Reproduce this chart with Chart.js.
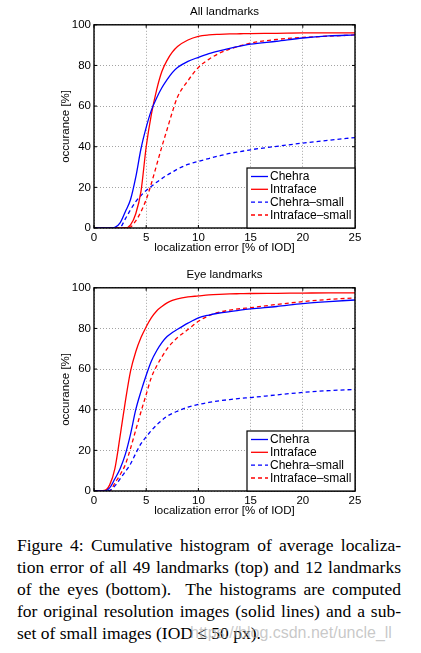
<!DOCTYPE html>
<html lang="en">
<head>
  <meta charset="UTF-8">
  <title>Cumulative localization error</title>
  <script src="https://cdn.jsdelivr.net/npm/chart.js"></script>
  <style>
    html, body {
      margin: 0;
      padding: 0;
      background: #fff;
    }
    body {
      position: relative;
      width: 421px;
      height: 653px;
      overflow: hidden;
    }
    .plot {
      position: absolute;
      left: 0;
      width: 421px;
      height: 262px;
    }
    #topBox { top: 0; }
    #eyeBox { top: 263px; }
    .caption {
      position: absolute;
      left: 17px;
      top: 534px;
      width: 384px;
      font-family: "Liberation Serif", "DejaVu Serif", serif;
      font-size: 17.5px;
      line-height: 22px;
      color: #000;
    }
    .caption .ln {
      text-align: justify;
      text-align-last: justify;
      white-space: nowrap;
    }
    .caption .ln.last {
      text-align-last: left;
    }
    .mark {
      position: absolute;
      left: 190px;
      top: 624px;
      font-family: "Liberation Sans", Arial, sans-serif;
      font-size: 16px;
      color: rgba(170, 170, 170, 0.65);
    }
  </style>
</head>
<body>
  <div class="plot" id="topBox"><canvas id="allChart"></canvas></div>
  <div class="plot" id="eyeBox"><canvas id="eyeChart"></canvas></div>

  <div class="caption">
    <div class="ln">Figure 4: Cumulative histogram of average localiza-</div>
    <div class="ln">tion error of all 49 landmarks (top) and 12 landmarks</div>
    <div class="ln">of the eyes (bottom).&nbsp; The histograms are computed</div>
    <div class="ln">for original resolution images (solid lines) and a sub-</div>
    <div class="ln last">set of small images (IOD ≤ 50 px).</div>
  </div>
  <div class="mark">https://blog.csdn.net/uncle_ll</div>

  <script>
    // localization error [% of IOD], shared sample points for every curve
    const errX = [0, 1, 1.5, 2, 2.5, 3, 3.5, 4, 4.5, 5, 5.5, 6, 6.5, 7, 7.5, 8, 9, 10, 11, 12, 13, 14, 15, 17.5, 20, 22.5, 25];

    // top: all 49 landmarks
    const allChehra         = [0, 0, 0, 0.3, 2.5, 8, 14, 25, 39, 49.5, 58, 64, 69, 73, 76.5, 79, 82, 84, 85.8, 87.2, 88.4, 89.5, 90.5, 91.9, 93.5, 94.5, 95];
    const allIntraface      = [0, 0, 0, 0, 0, 0, 1.5, 7, 18, 40, 56, 68, 77, 82.5, 86.5, 89.3, 92.5, 94.3, 95, 95.3, 95.5, 95.6, 95.7, 95.8, 96, 96, 96];
    const allChehraSmall    = [0, 0, 0, 0, 0.3, 4.5, 9, 13, 16, 18.5, 20.5, 22.5, 24.3, 26, 27.5, 29, 31.3, 32.8, 34.2, 35.5, 36.7, 37.6, 38.5, 40.2, 41.8, 43.2, 44.5];
    const allIntrafaceSmall = [0, 0, 0, 0, 0, 0, 0.5, 3.5, 8, 14, 22, 31, 40, 48.5, 57, 64.5, 72.5, 79, 83, 86, 88, 89.7, 91, 92.8, 93.8, 94.4, 95];

    // bottom: 12 eye landmarks
    const eyeChehra         = [0, 0, 1.5, 6, 11, 18, 28, 40, 49, 57, 64, 69, 73, 76, 78, 79.6, 82.6, 85.2, 86.6, 87.6, 88.3, 89, 89.6, 90.8, 92.2, 93.2, 94];
    const eyeIntraface      = [0, 0.3, 3, 11, 27, 44, 59, 68.5, 75.5, 80.8, 85.3, 88.6, 90.8, 92.6, 93.8, 94.6, 95.5, 96, 96.5, 96.8, 97, 97.1, 97.2, 97.3, 97.4, 97.5, 97.5];
    const eyeChehraSmall    = [0, 0, 0.3, 2.5, 6, 9.5, 13.3, 18.5, 23.3, 26.6, 29.8, 32.5, 34.8, 36.8, 38.2, 39.3, 41.3, 42.6, 43.6, 44.4, 45, 45.6, 46, 47.3, 48.5, 49.4, 50];
    const eyeIntrafaceSmall = [0, 0, 0, 4, 8, 13, 21, 30, 39, 47.5, 56, 61.5, 66, 70, 73, 75.5, 79.5, 83.5, 86.3, 88, 89, 89.7, 90.2, 91.8, 93.2, 94.3, 95];

    const seriesNames = ['Chehra', 'Intraface', 'Chehra\u2013small', 'Intraface\u2013small'];
    const xTitle = 'localization error [% of IOD]';
    const yTitle = 'occurance [%]';

    const BLUE = 'rgb(0,0,255)';
    const RED = 'rgb(255,0,0)';
    const FONT = '"Liberation Sans", Arial, sans-serif';
    const FS = 11.5;

    function points(ys) {
      return errX.map((x, i) => ({ x: x, y: ys[i] }));
    }

    function makeSets(series) {
      const colors = [BLUE, RED, BLUE, RED];
      return series.map((ys, i) => ({
        label: seriesNames[i],
        data: points(ys),
        borderColor: colors[i],
        borderWidth: 1.3,
        borderDash: i >= 2 ? [4, 3] : [],
        pointRadius: 0,
        fill: false,
        cubicInterpolationMode: 'monotone'
      }));
    }

    // matlab-like box, inward ticks and legend in the lower right corner
    const boxPlugin = {
      id: 'matlabBox',
      afterDraw(chart) {
        const ctx = chart.ctx;
        const a = chart.chartArea;
        const xs = chart.scales.x;
        const ys = chart.scales.y;
        ctx.save();
        ctx.strokeStyle = '#000';
        ctx.lineWidth = 1;
        ctx.beginPath();
        xs.ticks.forEach(t => {
          const px = xs.getPixelForValue(t.value);
          ctx.moveTo(px, a.bottom); ctx.lineTo(px, a.bottom - 3);
          ctx.moveTo(px, a.top); ctx.lineTo(px, a.top + 3);
        });
        ys.ticks.forEach(t => {
          const py = ys.getPixelForValue(t.value);
          ctx.moveTo(a.left, py); ctx.lineTo(a.left + 3, py);
          ctx.moveTo(a.right, py); ctx.lineTo(a.right - 3, py);
        });
        ctx.stroke();

        ctx.lineWidth = 1.4;
        ctx.strokeRect(a.left, a.top, a.right - a.left, a.bottom - a.top);

        // legend
        const w = 108, h = 60;
        const lx = a.right - w, ly = a.bottom - h;
        ctx.fillStyle = '#fff';
        ctx.fillRect(lx, ly, w, h);
        ctx.lineWidth = 1.2;
        ctx.strokeRect(lx, ly, w, h);
        const rows = [8.5, 21.3, 34.2, 47];
        ctx.font = '12px ' + FONT;
        ctx.textBaseline = 'middle';
        chart.data.datasets.forEach((ds, i) => {
          const y = ly + rows[i];
          ctx.strokeStyle = ds.borderColor;
          ctx.lineWidth = 1.3;
          ctx.setLineDash(ds.borderDash);
          ctx.beginPath();
          ctx.moveTo(lx + 4, y);
          ctx.lineTo(lx + 21, y);
          ctx.stroke();
          ctx.setLineDash([]);
          ctx.fillStyle = '#000';
          ctx.fillText(ds.label, lx + 23, y + 0.5);
        });
        ctx.restore();
      }
    };

    function makeChart(id, title, series) {
      return new Chart(document.getElementById(id), {
        type: 'line',
        data: { datasets: makeSets(series) },
        plugins: [boxPlugin],
        options: {
          responsive: true,
          maintainAspectRatio: false,
          animation: false,
          layout: { padding: { left: 0, right: 66, top: 0, bottom: 0 } },
          plugins: {
            legend: { display: false },
            tooltip: { enabled: false },
            title: {
              display: true,
              text: title,
              fullSize: false,
              color: '#000',
              font: { family: FONT, size: FS, weight: 'normal' },
              padding: { top: 5, bottom: 6 }
            }
          },
          scales: {
            x: {
              type: 'linear',
              min: 0,
              max: 25,
              ticks: { stepSize: 5, color: '#000', padding: 3, font: { family: FONT, size: FS } },
              grid: { color: '#8c8c8c', lineWidth: 0.8, drawTicks: false },
              border: { display: false, dash: [1, 2] },
              title: {
                display: true,
                text: xTitle,
                color: '#000',
                font: { family: FONT, size: FS },
                padding: { top: 0, bottom: 7 }
              },
              afterFit(scale) { scale.height = 34; }
            },
            y: {
              min: 0,
              max: 100,
              ticks: { stepSize: 20, color: '#000', padding: 3, font: { family: FONT, size: FS } },
              grid: { color: '#8c8c8c', lineWidth: 0.8, drawTicks: false },
              border: { display: false, dash: [1, 2] },
              title: {
                display: true,
                text: yTitle,
                color: '#000',
                font: { family: FONT, size: FS },
                padding: { top: 59, bottom: 0 }
              },
              afterFit(scale) { scale.width = 94; }
            }
          }
        }
      });
    }

    makeChart('allChart', 'All landmarks', [allChehra, allIntraface, allChehraSmall, allIntrafaceSmall]);
    makeChart('eyeChart', 'Eye landmarks', [eyeChehra, eyeIntraface, eyeChehraSmall, eyeIntrafaceSmall]);
  </script>
</body>
</html>
